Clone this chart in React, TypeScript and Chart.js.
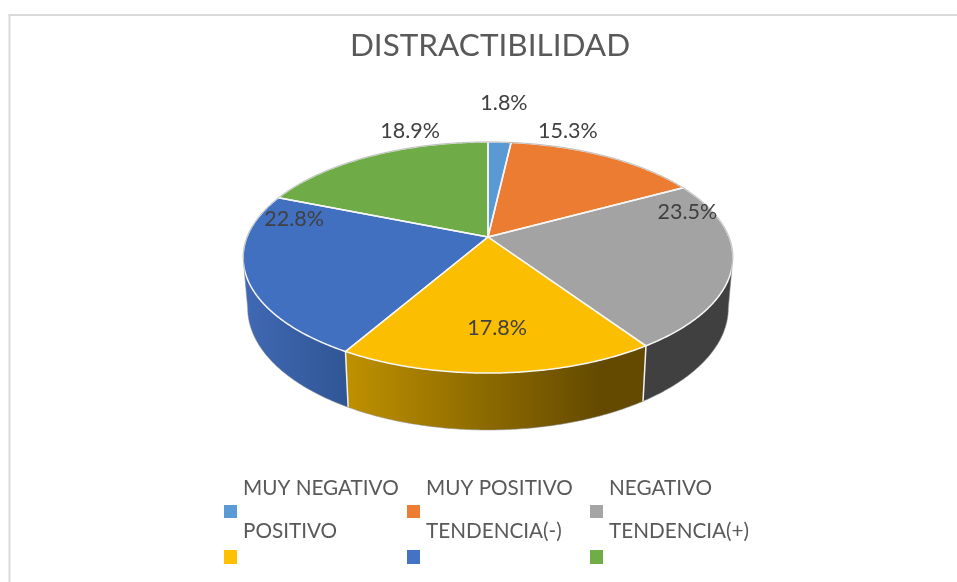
import React, { useEffect, useRef } from "react";
import { Chart, registerables } from "chart.js";

Chart.register(...registerables);

const TITLE = "DISTRACTIBILIDAD";
const categories = ["MUY NEGATIVO", "MUY POSITIVO", "NEGATIVO", "POSITIVO", "TENDENCIA(-)", "TENDENCIA(+)"];
const shares = [1.8, 15.3, 23.5, 17.8, 22.8, 18.9];
const colors = ["#5B9BD5", "#ED7D31", "#A5A5A5", "#FFC000", "#4472C4", "#70AD47"];
const faceColors = ["#5A99D3", "#EB7C31", "#A3A3A3", "#FCBE00", "#4270C0", "#6FAB46"];
const wallColors = ["#2E6DA4", "#A9551C", "#404040", "#7F6000", "#2F5597", "#4E7A32"];
// Label offsets from the rim point at each slice's mid angle.
const labelOffsets = [[4.4, -39], [-37.5, -25], [-45, -53], [-1, -45], [48, -57], [39.5, -25]];

const FONT = "Lato, 'Open Sans', sans-serif";
const CX = 488;
const K = 0.1775;
const TOP = { a: 241, b: 111.9, cy: 237 };
const BOTTOM = { a: 236.5, b: 118, cy: 286.5 };
// Angles at which the rim is tangent to the wall's silhouette.
const FRONT_FROM = Math.acos(-K);
const FRONT_TO = 2 * Math.PI - FRONT_FROM;

type Plane = { a: number; b: number; cy: number };

function project(p: Plane, theta: number, r = 1): [number, number] {
  const u = r * Math.sin(theta);
  const v = -r * Math.cos(theta);
  const w = 1 - K * v;
  return [CX + (p.a * u) / w, p.cy + (p.b * v) / w];
}

function arcPoints(p: Plane, from: number, to: number): [number, number][] {
  const n = Math.max(2, Math.ceil(Math.abs(to - from) / 0.01));
  const pts: [number, number][] = [];
  for (let i = 0; i <= n; i++) pts.push(project(p, from + ((to - from) * i) / n));
  return pts;
}

function wallFill(ctx: CanvasRenderingContext2D, i: number): string | CanvasGradient {
  if (i === 3) {
    const g = ctx.createLinearGradient(345, 0, 600, 0);
    g.addColorStop(0, "#BF9100");
    g.addColorStop(1, "#634A00");
    return g;
  }
  if (i === 4) {
    const g = ctx.createLinearGradient(245, 0, 350, 0);
    g.addColorStop(0, "#4069B4");
    g.addColorStop(1, "#2F5594");
    return g;
  }
  return wallColors[i];
}

const pie3d = {
  id: "pie3d",
  beforeDraw(chart: Chart) {
    const { ctx, width, height } = chart;
    ctx.save();
    ctx.fillStyle = "#FFFFFF";
    ctx.fillRect(0, 0, width, height);
    ctx.fillStyle = "#D9D9D9";
    ctx.fillRect(8.5, 14, width - 8.5, 2);
    ctx.fillRect(8.5, 14, 2, height - 14);
    ctx.restore();
  },
  beforeDatasetsDraw(chart: Chart) {
    const { ctx } = chart;
    const arcs = chart.getDatasetMeta(0).data as any[];
    const angles = arcs.map((a) => [a.startAngle + Math.PI / 2, a.endAngle + Math.PI / 2]);
    ctx.save();
    ctx.lineJoin = "round";

    // walls (only the part facing the viewer)
    angles.forEach(([s0, e0], i) => {
      const s = Math.max(s0, FRONT_FROM);
      const e = Math.min(e0, FRONT_TO);
      if (s >= e) return;
      const top = arcPoints(TOP, s, e);
      const bottom = arcPoints(BOTTOM, s, e).reverse();
      ctx.beginPath();
      [...top, ...bottom].forEach(([x, y], j) => (j ? ctx.lineTo(x, y) : ctx.moveTo(x, y)));
      ctx.closePath();
      ctx.fillStyle = wallFill(ctx, i);
      ctx.fill();
    });
    // white seams on the wall
    angles.forEach(([s]) => {
      if (s <= FRONT_FROM || s >= FRONT_TO) return;
      const a = project(TOP, s);
      const b = project(BOTTOM, s);
      ctx.beginPath();
      ctx.moveTo(a[0], a[1]);
      ctx.lineTo(b[0], b[1]);
      ctx.strokeStyle = "#F2F2F2";
      ctx.lineWidth = 1.5;
      ctx.stroke();
    });

    // top faces
    angles.forEach(([s, e], i) => {
      ctx.beginPath();
      ctx.moveTo(CX, TOP.cy);
      arcPoints(TOP, s, e).forEach(([x, y]) => ctx.lineTo(x, y));
      ctx.closePath();
      ctx.fillStyle = faceColors[i];
      ctx.fill();
    });
    angles.forEach(([s, e]) => {
      ctx.beginPath();
      ctx.moveTo(CX, TOP.cy);
      arcPoints(TOP, s, e).forEach(([x, y]) => ctx.lineTo(x, y));
      ctx.closePath();
      ctx.strokeStyle = "#F7F7F7";
      ctx.lineWidth = 1.5;
      ctx.stroke();
    });

    // soft grey silhouette round the whole solid
    const outline = [
      ...arcPoints(TOP, FRONT_TO, 2 * Math.PI + FRONT_FROM),
      ...arcPoints(BOTTOM, FRONT_FROM, FRONT_TO),
    ];
    ctx.beginPath();
    outline.forEach(([x, y], j) => (j ? ctx.lineTo(x, y) : ctx.moveTo(x, y)));
    ctx.closePath();
    ctx.strokeStyle = "rgba(140,140,140,0.55)";
    ctx.lineWidth = 1;
    ctx.stroke();
    ctx.restore();
    return false;
  },
  afterDraw(chart: Chart) {
    const { ctx } = chart;
    const arcs = chart.getDatasetMeta(0).data as any[];
    const values = chart.data.datasets[0].data as number[];
    ctx.save();
    // data labels
    ctx.font = `21.5px ${FONT}`;
    ctx.fillStyle = "#404040";
    ctx.textAlign = "center";
    ctx.textBaseline = "middle";
    arcs.forEach((a, i) => {
      const mid = (a.startAngle + a.endAngle) / 2 + Math.PI / 2;
      const [x, y] = project(TOP, mid);
      ctx.fillText(`${values[i].toFixed(1)}%`, x + labelOffsets[i][0], y + labelOffsets[i][1]);
    });
    // legend: label above-right of its swatch
    const labels = chart.data.labels as string[];
    ctx.font = `20.7px ${FONT}`;
    ctx.textAlign = "left";
    labels.forEach((label, i) => {
      const col = i % 3;
      const row = Math.floor(i / 3);
      const sx = 224 + col * 183;
      ctx.fillStyle = "#595959";
      ctx.fillText(label, sx + 19, 488 + row * 43);
      ctx.fillStyle = colors[i];
      ctx.fillRect(sx, row ? 550 : 505, 13, row ? 14 : 13);
    });
    ctx.restore();
  },
};

export default function App() {
  const ref = useRef<HTMLCanvasElement>(null);
  useEffect(() => {
    const chart = new Chart(ref.current!, {
      type: "pie",
      data: {
        labels: categories,
        datasets: [{ data: shares, backgroundColor: colors, borderWidth: 0 }],
      },
      options: {
        animation: false,
        responsive: false,
        layout: { padding: { left: 23 } },
        plugins: {
          legend: { display: false },
          tooltip: { enabled: false },
          title: {
            display: true,
            text: TITLE,
            color: "#595959",
            font: { family: FONT, size: 31.5, weight: "normal" },
            padding: { top: 27, bottom: 10 },
          },
        },
      },
      plugins: [pie3d],
    });
    return () => chart.destroy();
  }, []);
  return (
    <canvas
      ref={ref}
      width={957}
      height={582}
      style={{ position: "fixed", left: 0, top: 0, width: 957, height: 582 }}
    />
  );
}
